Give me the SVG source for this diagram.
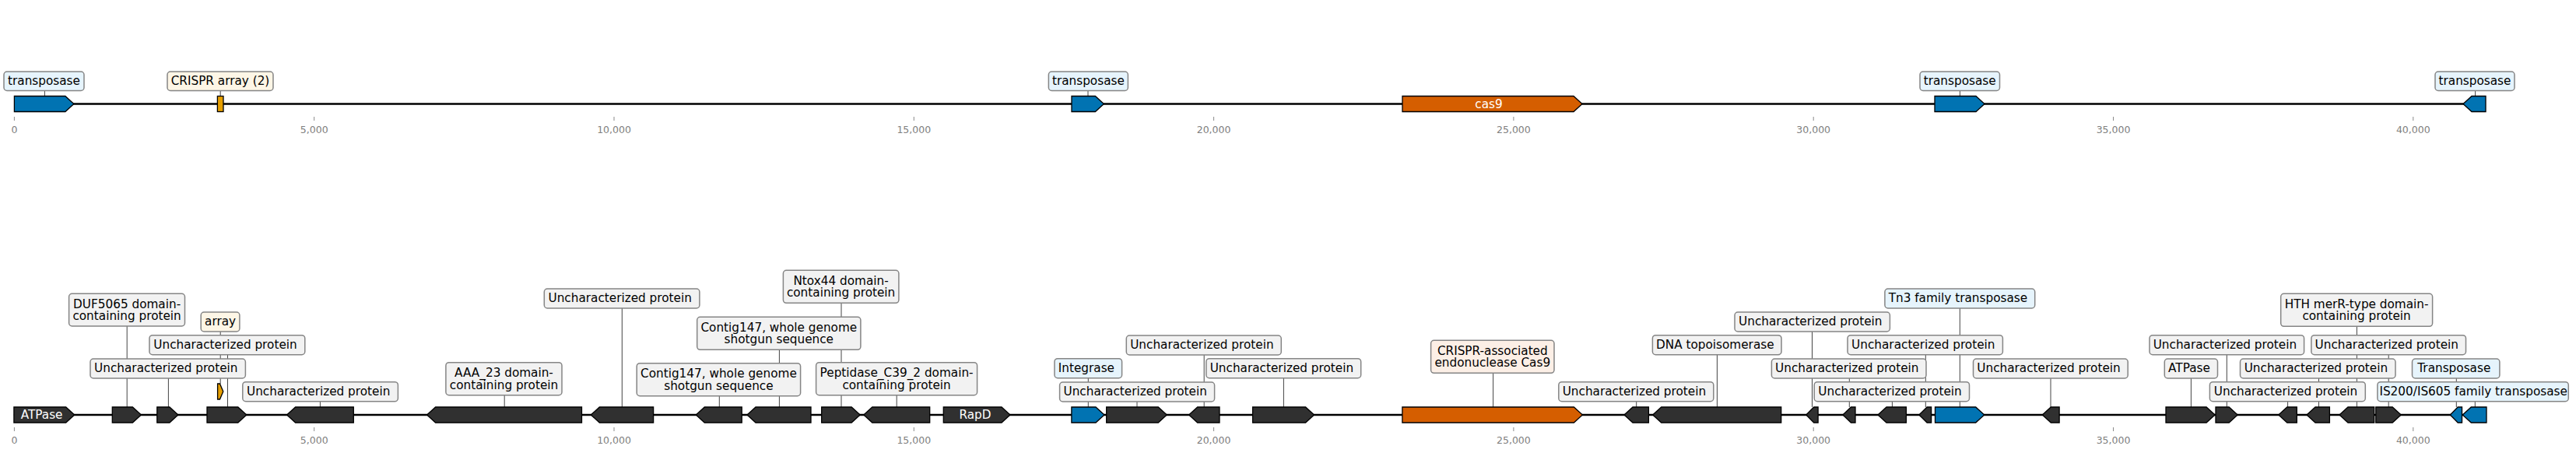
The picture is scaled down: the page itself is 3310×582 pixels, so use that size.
<svg xmlns="http://www.w3.org/2000/svg" width="3310" height="582" viewBox="0 0 3310 582">
<style>
text{font-family:"DejaVu Sans","Liberation Sans",sans-serif}
.gd{fill:#303030;stroke:#000;stroke-width:1.3}
.gb{fill:#0173b2;stroke:#000;stroke-width:1.3}
.go{fill:#d55e00;stroke:#000;stroke-width:1.3}
.gy{fill:#e69f00;stroke:#000;stroke-width:1.3}
.bx{stroke:#858585;stroke-width:1.5}
.bg{fill:#f2f2f2}.bb{fill:#e6f4fc}.bc{fill:#fdf6e6}.bp{fill:#fcefe6}
.lb{font-size:15.28px;fill:#000;text-anchor:middle}
.gt{font-size:15.28px;fill:#fff;text-anchor:middle}
.cn line{stroke:#444;stroke-width:1}
.bk{stroke:#000;stroke-width:2.6}
.tk line{stroke:#8a8a8a;stroke-width:1}
.tl{font-size:12.5px;fill:#808080;text-anchor:middle}
</style>
<rect width="3310" height="582" fill="#fff"/>
<g id="axes">
<line class="bk" x1="18.4" y1="133.5" x2="3194" y2="133.5"/>
<line class="bk" x1="17.9" y1="533" x2="3195" y2="533"/>
<g class="tk">
<line x1="18.4" y1="150" x2="18.4" y2="155"/><line x1="403.7" y1="150" x2="403.7" y2="155"/><line x1="789" y1="150" x2="789" y2="155"/><line x1="1174.3" y1="150" x2="1174.3" y2="155"/><line x1="1559.6" y1="150" x2="1559.6" y2="155"/><line x1="1944.9" y1="150" x2="1944.9" y2="155"/><line x1="2330.2" y1="150" x2="2330.2" y2="155"/><line x1="2715.5" y1="150" x2="2715.5" y2="155"/><line x1="3100.8" y1="150" x2="3100.8" y2="155"/>
<line x1="18.4" y1="549" x2="18.4" y2="554"/><line x1="403.7" y1="549" x2="403.7" y2="554"/><line x1="789" y1="549" x2="789" y2="554"/><line x1="1174.3" y1="549" x2="1174.3" y2="554"/><line x1="1559.6" y1="549" x2="1559.6" y2="554"/><line x1="1944.9" y1="549" x2="1944.9" y2="554"/><line x1="2330.2" y1="549" x2="2330.2" y2="554"/><line x1="2715.5" y1="549" x2="2715.5" y2="554"/><line x1="3100.8" y1="549" x2="3100.8" y2="554"/>
</g>
<text class="tl" x="18.4" y="170.5">0</text><text class="tl" x="403.7" y="170.5">5,000</text><text class="tl" x="789" y="170.5">10,000</text><text class="tl" x="1174.3" y="170.5">15,000</text><text class="tl" x="1559.6" y="170.5">20,000</text><text class="tl" x="1944.9" y="170.5">25,000</text><text class="tl" x="2330.2" y="170.5">30,000</text><text class="tl" x="2715.5" y="170.5">35,000</text><text class="tl" x="3100.8" y="170.5">40,000</text>
<text class="tl" x="18.4" y="570">0</text><text class="tl" x="403.7" y="570">5,000</text><text class="tl" x="789" y="570">10,000</text><text class="tl" x="1174.3" y="570">15,000</text><text class="tl" x="1559.6" y="570">20,000</text><text class="tl" x="1944.9" y="570">25,000</text><text class="tl" x="2330.2" y="570">30,000</text><text class="tl" x="2715.5" y="570">35,000</text><text class="tl" x="3100.8" y="570">40,000</text>
</g>
<g id="connectors" class="cn">
<line x1="57.4" y1="116.5" x2="57.4" y2="123.5"/>
<line x1="283.2" y1="116.5" x2="283.2" y2="123.5"/>
<line x1="1398" y1="116.5" x2="1398" y2="123.5"/>
<line x1="2518.4" y1="116.5" x2="2518.4" y2="123.5"/>
<line x1="3180.6" y1="116.5" x2="3180.6" y2="123.5"/>
<line x1="163.2" y1="419" x2="163.2" y2="523"/>
<line x1="283.2" y1="426" x2="283.2" y2="493"/>
<line x1="292.5" y1="455.7" x2="292.5" y2="523"/>
<line x1="216.4" y1="486" x2="216.4" y2="523"/>
<line x1="411.4" y1="515.7" x2="411.4" y2="523"/>
<line x1="648.2" y1="507.7" x2="648.2" y2="523"/>
<line x1="799.3" y1="396" x2="799.3" y2="523"/>
<line x1="924.3" y1="508.7" x2="924.3" y2="523"/>
<line x1="1001.4" y1="449.3" x2="1001.4" y2="523"/>
<line x1="1081" y1="389.3" x2="1081" y2="523"/>
<line x1="1152.2" y1="507.7" x2="1152.2" y2="523"/>
<line x1="1398.3" y1="485.7" x2="1398.3" y2="523"/>
<line x1="1461" y1="516" x2="1461" y2="523"/>
<line x1="1547.2" y1="456" x2="1547.2" y2="523"/>
<line x1="1649.4" y1="485.7" x2="1649.4" y2="523"/>
<line x1="1918.6" y1="479.3" x2="1918.6" y2="523"/>
<line x1="2102.7" y1="515.7" x2="2102.7" y2="523"/>
<line x1="2206.4" y1="455.7" x2="2206.4" y2="523"/>
<line x1="2328.5" y1="426" x2="2328.5" y2="523"/>
<line x1="2376.3" y1="486" x2="2376.3" y2="523"/>
<line x1="2431.4" y1="515.7" x2="2431.4" y2="523"/>
<line x1="2474.3" y1="455.7" x2="2474.3" y2="523"/>
<line x1="2518.3" y1="396" x2="2518.3" y2="523"/>
<line x1="2635" y1="486" x2="2635" y2="523"/>
<line x1="2815.4" y1="486" x2="2815.4" y2="523"/>
<line x1="2861.3" y1="455.7" x2="2861.3" y2="523"/>
<line x1="2939.6" y1="515.7" x2="2939.6" y2="523"/>
<line x1="2979.5" y1="486" x2="2979.5" y2="523"/>
<line x1="3028.4" y1="419.3" x2="3028.4" y2="523"/>
<line x1="3069.2" y1="455.7" x2="3069.2" y2="523"/>
<line x1="3156.3" y1="486" x2="3156.3" y2="523"/>
<line x1="3180.3" y1="515.7" x2="3180.3" y2="523"/>
</g>
<g id="top-transposase-1"><polygon class="gb" points="18.4,123.5 83.9,123.5 94.9,133.5 83.9,143.5 18.4,143.5"/><rect class="bx bb" x="5" y="92" width="103" height="24.5" rx="4"/><text class="lb" x="56.5" y="109">transposase</text></g>
<g id="top-crispr-array"><rect class="gy" x="279.4" y="123.5" width="7.6" height="20"/><rect class="bx bc" x="215" y="92" width="136" height="24.5" rx="4"/><text class="lb" x="283" y="109">CRISPR array (2)</text></g>
<g id="top-transposase-2"><polygon class="gb" points="1377,123.5 1407.4,123.5 1418.4,133.5 1407.4,143.5 1377,143.5"/><rect class="bx bb" x="1347.4" y="92" width="102" height="24.5" rx="4"/><text class="lb" x="1398.4" y="109">transposase</text></g>
<g id="top-cas9"><polygon class="go" points="1802,123.5 2022,123.5 2033,133.5 2022,143.5 1802,143.5"/><text class="gt" x="1913" y="138.5">cas9</text></g>
<g id="top-transposase-3"><polygon class="gb" points="2486,123.5 2539,123.5 2550,133.5 2539,143.5 2486,143.5"/><rect class="bx bb" x="2467" y="92" width="102.5" height="24.5" rx="4"/><text class="lb" x="2518.2" y="109">transposase</text></g>
<g id="top-transposase-4"><polygon class="gb" points="3194,123.5 3176,123.5 3165,133.5 3176,143.5 3194,143.5"/><rect class="bx bb" x="3129" y="92" width="102" height="24.5" rx="4"/><text class="lb" x="3180" y="109">transposase</text></g>
<g id="b-atpase-1"><polygon class="gd" points="17.9,523 84.7,523 95.7,533 84.7,543 17.9,543"/><text class="gt" x="53.6" y="538.3">ATPase</text></g>
<g id="b-duf5065"><polygon class="gd" points="144.3,523 170.4,523 181.4,533 170.4,543 144.3,543"/><rect class="bx bg" x="88.6" y="377.3" width="148.9" height="41.7" rx="4"/><text class="lb" x="163.1" y="395.7">DUF5065 domain-</text><text class="lb" x="163.1" y="411.1">containing protein</text></g>
<g id="b-unchar-1"><polygon class="gd" points="201.8,523 217.9,523 228.9,533 217.9,543 201.8,543"/><rect class="bx bg" x="116" y="461" width="199.4" height="25" rx="4"/><text class="lb" x="213.3" y="478">Uncharacterized protein</text></g>
<g id="b-array"><polygon class="gy" points="279.6,493 282.5,493 286.8,503 282.5,513 279.6,513"/><rect class="bx bc" x="258.2" y="401" width="49.7" height="25" rx="4"/><text class="lb" x="283.1" y="418">array</text></g>
<g id="b-unchar-2"><polygon class="gd" points="266,523 305.8,523 316.8,533 305.8,543 266,543"/><rect class="bx bg" x="192" y="430.7" width="199.8" height="25" rx="4"/><text class="lb" x="289.5" y="447.7">Uncharacterized protein</text></g>
<g id="b-unchar-3"><polygon class="gd" points="454.3,523 379.6,523 368.6,533 379.6,543 454.3,543"/><rect class="bx bg" x="311.8" y="490.7" width="199.6" height="25" rx="4"/><text class="lb" x="409.2" y="507.7">Uncharacterized protein</text></g>
<g id="b-aaa23"><polygon class="gd" points="747.5,523 559.6,523 548.6,533 559.6,543 747.5,543"/><rect class="bx bg" x="572.9" y="465.7" width="149.1" height="42" rx="4"/><text class="lb" x="647.5" y="484.1">AAA_23 domain-</text><text class="lb" x="647.5" y="499.5">containing protein</text></g>
<g id="b-unchar-4"><polygon class="gd" points="839.6,523 770.3,523 759.3,533 770.3,543 839.6,543"/><rect class="bx bg" x="699.3" y="371" width="199.6" height="25" rx="4"/><text class="lb" x="796.7" y="388">Uncharacterized protein</text></g>
<g id="b-contig147-1"><polygon class="gd" points="953.2,523 905.3,523 894.3,533 905.3,543 953.2,543"/><rect class="bx bg" x="818.2" y="466.7" width="210.4" height="42" rx="4"/><text class="lb" x="923.4" y="485.1">Contig147, whole genome</text><text class="lb" x="923.4" y="500.5">shotgun sequence</text></g>
<g id="b-contig147-2"><polygon class="gd" points="1042,523 971,523 960,533 971,543 1042,543"/><rect class="bx bg" x="895.7" y="407.3" width="210.2" height="42" rx="4"/><text class="lb" x="1000.8" y="425.7">Contig147, whole genome</text><text class="lb" x="1000.8" y="441.1">shotgun sequence</text></g>
<g id="b-ntox44"><polygon class="gd" points="1055.7,523 1094.2,523 1105.2,533 1094.2,543 1055.7,543"/><rect class="bx bg" x="1006.4" y="347.3" width="148.5" height="42" rx="4"/><text class="lb" x="1080.6" y="365.7">Ntox44 domain-</text><text class="lb" x="1080.6" y="381.1">containing protein</text></g>
<g id="b-peptidase"><polygon class="gd" points="1194.7,523 1120.8,523 1109.8,533 1120.8,543 1194.7,543"/><rect class="bx bg" x="1048.6" y="465.7" width="207" height="42" rx="4"/><text class="lb" x="1152.1" y="484.1">Peptidase_C39_2 domain-</text><text class="lb" x="1152.1" y="499.5">containing protein</text></g>
<g id="b-rapd"><polygon class="gd" points="1212.3,523 1287,523 1298,533 1287,543 1212.3,543"/><text class="gt" x="1253" y="538.3">RapD</text></g>
<g id="b-integrase"><polygon class="gb" points="1376.9,523 1408,523 1419,533 1408,543 1376.9,543"/><rect class="bx bb" x="1355" y="460.7" width="86.6" height="25" rx="4"/><text class="lb" x="1395.9" y="477.7">Integrase</text></g>
<g id="b-unchar-5"><polygon class="gd" points="1421.7,523 1488.3,523 1499.3,533 1488.3,543 1421.7,543"/><rect class="bx bg" x="1361.6" y="491" width="199" height="25" rx="4"/><text class="lb" x="1458.7" y="508">Uncharacterized protein</text></g>
<g id="b-unchar-6"><polygon class="gd" points="1567,523 1538.7,523 1527.7,533 1538.7,543 1567,543"/><rect class="bx bg" x="1447.3" y="431" width="199" height="25" rx="4"/><text class="lb" x="1544.4" y="448">Uncharacterized protein</text></g>
<g id="b-unchar-7"><polygon class="gd" points="1609.6,523 1677.6,523 1688.6,533 1677.6,543 1609.6,543"/><rect class="bx bg" x="1549.9" y="460.7" width="198.8" height="25" rx="4"/><text class="lb" x="1646.9" y="477.7">Uncharacterized protein</text></g>
<g id="b-cas9"><polygon class="go" points="1801.9,523 2022.4,523 2033.4,533 2022.4,543 1801.9,543"/><rect class="bx bp" x="1838.6" y="437.3" width="158.4" height="42" rx="4"/><text class="lb" x="1917.8" y="455.7">CRISPR-associated</text><text class="lb" x="1917.8" y="471.1">endonuclease Cas9</text></g>
<g id="b-unchar-8"><polygon class="gd" points="2118.4,523 2098,523 2087,533 2098,543 2118.4,543"/><rect class="bx bg" x="2002.8" y="490.7" width="199" height="25" rx="4"/><text class="lb" x="2099.9" y="507.7">Uncharacterized protein</text></g>
<g id="b-dna-topo"><polygon class="gd" points="2288.7,523 2134.7,523 2123.7,533 2134.7,543 2288.7,543"/><rect class="bx bg" x="2123.4" y="430.7" width="165.6" height="25" rx="4"/><text class="lb" x="2203.8" y="447.7">DNA topoisomerase</text></g>
<g id="b-unchar-9"><polygon class="gd" points="2336.1,523 2330.7,523 2320.8,533 2330.7,543 2336.1,543"/><rect class="bx bg" x="2229" y="401" width="199.4" height="25" rx="4"/><text class="lb" x="2326.3" y="418">Uncharacterized protein</text></g>
<g id="b-unchar-10"><polygon class="gd" points="2384,523 2378.4,523 2367.9,533 2378.4,543 2384,543"/><rect class="bx bg" x="2276.4" y="461" width="198.6" height="25" rx="4"/><text class="lb" x="2373.3" y="478">Uncharacterized protein</text></g>
<g id="b-unchar-11"><polygon class="gd" points="2449.4,523 2424,523 2413,533 2424,543 2449.4,543"/><rect class="bx bg" x="2331.2" y="490.7" width="199.3" height="25" rx="4"/><text class="lb" x="2428.5" y="507.7">Uncharacterized protein</text></g>
<g id="b-unchar-12"><polygon class="gd" points="2481.6,523 2476.1,523 2465.9,533 2476.1,543 2481.6,543"/><rect class="bx bg" x="2374" y="430.7" width="199.4" height="25" rx="4"/><text class="lb" x="2471.3" y="447.7">Uncharacterized protein</text></g>
<g id="b-tn3"><polygon class="gb" points="2486.5,523 2538.7,523 2549.7,533 2538.7,543 2486.5,543"/><rect class="bx bb" x="2421.9" y="371" width="192.8" height="25" rx="4"/><text class="lb" x="2515.9" y="388">Tn3 family transposase</text></g>
<g id="b-unchar-13"><polygon class="gd" points="2646.1,523 2635.3,523 2624.3,533 2635.3,543 2646.1,543"/><rect class="bx bg" x="2535.5" y="461" width="198.7" height="25" rx="4"/><text class="lb" x="2632.5" y="478">Uncharacterized protein</text></g>
<g id="b-atpase-2"><polygon class="gd" points="2783,523 2835.1,523 2846.1,533 2835.1,543 2783,543"/><rect class="bx bg" x="2781.3" y="461" width="68.2" height="25" rx="4"/><text class="lb" x="2813" y="478">ATPase</text></g>
<g id="b-unchar-14"><polygon class="gd" points="2847,523 2864.2,523 2875.2,533 2864.2,543 2847,543"/><rect class="bx bg" x="2762" y="430.7" width="198.6" height="25" rx="4"/><text class="lb" x="2858.9" y="447.7">Uncharacterized protein</text></g>
<g id="b-unchar-15"><polygon class="gd" points="2951.3,523 2938.8,523 2927.8,533 2938.8,543 2951.3,543"/><rect class="bx bg" x="2839.4" y="490.7" width="199.9" height="25" rx="4"/><text class="lb" x="2937" y="507.7">Uncharacterized protein</text></g>
<g id="b-unchar-16"><polygon class="gd" points="2993.4,523 2975,523 2964,533 2975,543 2993.4,543"/><rect class="bx bg" x="2878.5" y="461" width="199.5" height="25" rx="4"/><text class="lb" x="2975.9" y="478">Uncharacterized protein</text></g>
<g id="b-hth"><polygon class="gd" points="3050.7,523 3017,523 3006,533 3017,543 3050.7,543"/><rect class="bx bg" x="2930.7" y="377.3" width="194.9" height="42" rx="4"/><text class="lb" x="3028.1" y="395.7">HTH merR-type domain-</text><text class="lb" x="3028.1" y="411.1">containing protein</text></g>
<g id="b-unchar-17"><polygon class="gd" points="3052.8,523 3074.2,523 3085.2,533 3074.2,543 3052.8,543"/><rect class="bx bg" x="2969.9" y="430.7" width="198.6" height="25" rx="4"/><text class="lb" x="3066.8" y="447.7">Uncharacterized protein</text></g>
<g id="b-transposase"><polygon class="gb" points="3163.5,523 3158.2,523 3148.3,533 3158.2,543 3163.5,543"/><rect class="bx bb" x="3099.5" y="461" width="112.4" height="25" rx="4"/><text class="lb" x="3153.3" y="478">Transposase</text></g>
<g id="b-is200"><polygon class="gb" points="3195,523 3175.3,523 3164.3,533 3175.3,543 3195,543"/><rect class="bx bb" x="3054.9" y="490.7" width="245.4" height="25" rx="4"/><text class="lb" x="3178.2" y="507.7">IS200/IS605 family transposase</text></g>
</svg>
